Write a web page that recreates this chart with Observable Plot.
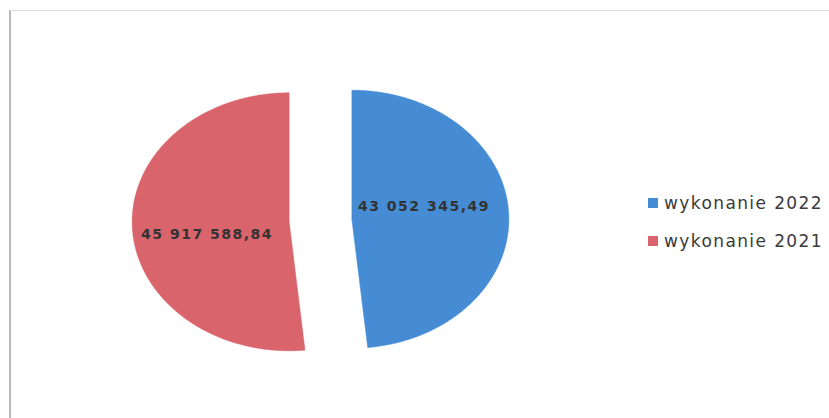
<!DOCTYPE html>
<html>
<head>
<meta charset="utf-8">
<script src="https://cdn.jsdelivr.net/npm/d3@7"></script>
<script src="https://cdn.jsdelivr.net/npm/@observablehq/plot@0.6"></script>
<style>
  html, body { margin: 0; padding: 0; background: #fff; }
  #wrap { position: relative; width: 829px; height: 418px; overflow: hidden; }
  #border { position: absolute; left: 9px; top: 10px; width: 900px; height: 500px;
            border-top: 1px solid #dcdcdc; border-left: 2px solid #b9b9b9; }
  #legend { position: absolute; left: 648px; top: 192px; font-family: "DejaVu Sans", sans-serif;
            font-size: 17px; letter-spacing: 1.4px; color: #3a3a3a; }
  .item { display: flex; align-items: center; height: 22px; margin-bottom: 16px; white-space: nowrap; }
  .sw { width: 10px; height: 10px; margin-right: 6px; }
  #chart { position: absolute; left: 0; top: 0; }
</style>
</head>
<body>
<div id="wrap">
  <div id="border"></div>
  <div id="chart"></div>
  <div id="legend"></div>
</div>
<script>
// Data
const names = ["wykonanie 2022", "wykonanie 2021"];
const values = [43052345.49, 45917588.84];
const colors = ["#458cd5", "#d9646c"];

const explode = 0.2;      // exploded offset (fraction of radius)
const labelR = 0.5;       // label distance from slice centre
const labelShift = -0.14; // label angle shift (radians)

const fmt = d3.formatLocale({decimal: ",", thousands: "\u00a0", grouping: [3], currency: ["", ""]}).format(",.2f");

const table = names.map((name, i) => ({name, value: values[i]}));
const arcs = d3.pie().sort(null).value(d => d.value).startAngle(0).endAngle(2 * Math.PI)(table);

const points = [];
const labels = [];
for (const a of arcs) {
  const mid = (a.startAngle + a.endAngle) / 2;
  const ox = explode * Math.sin(mid), oy = explode * Math.cos(mid);
  points.push({name: a.data.name, x: ox, y: oy});
  const n = Math.ceil((a.endAngle - a.startAngle) / 0.01);
  for (let k = 0; k <= n; k++) {
    const t = a.startAngle + (a.endAngle - a.startAngle) * k / n;
    points.push({name: a.data.name, x: ox + Math.sin(t), y: oy + Math.cos(t)});
  }
  points.push({name: a.data.name, x: ox, y: oy});
  const la = mid + labelShift;
  labels.push({name: a.data.name, text: fmt(a.data.value),
               x: ox + labelR * Math.sin(la), y: oy + labelR * Math.cos(la)});
}

const chart = Plot.plot({
  width: 829,
  height: 418,
  margin: 0,
  x: {domain: [-1, 1], range: [163, 477], axis: null},
  y: {domain: [-1, 1], range: [349, 91], axis: null},
  color: {domain: names, range: colors},
  style: {background: "transparent"},
  marks: [
    Plot.line(points, {x: "x", y: "y", z: "name", fill: "name", stroke: "name", strokeWidth: 0.5, curve: "linear"}),
    Plot.text(labels, {x: "x", y: "y", text: "text", fill: "#333", fontSize: 14, fontWeight: "bold",
                       fontFamily: "DejaVu Sans", dx: -5})
  ]
});
chart.querySelectorAll("text").forEach(t => t.style.letterSpacing = "1.5px");
document.getElementById("chart").appendChild(chart);

const legend = document.getElementById("legend");
names.forEach((n, i) => {
  const it = document.createElement("div");
  it.className = "item";
  const sw = document.createElement("span");
  sw.className = "sw";
  sw.style.background = colors[i];
  const tx = document.createElement("span");
  tx.textContent = n;
  it.appendChild(sw); it.appendChild(tx);
  legend.appendChild(it);
});
</script>
</body>
</html>
